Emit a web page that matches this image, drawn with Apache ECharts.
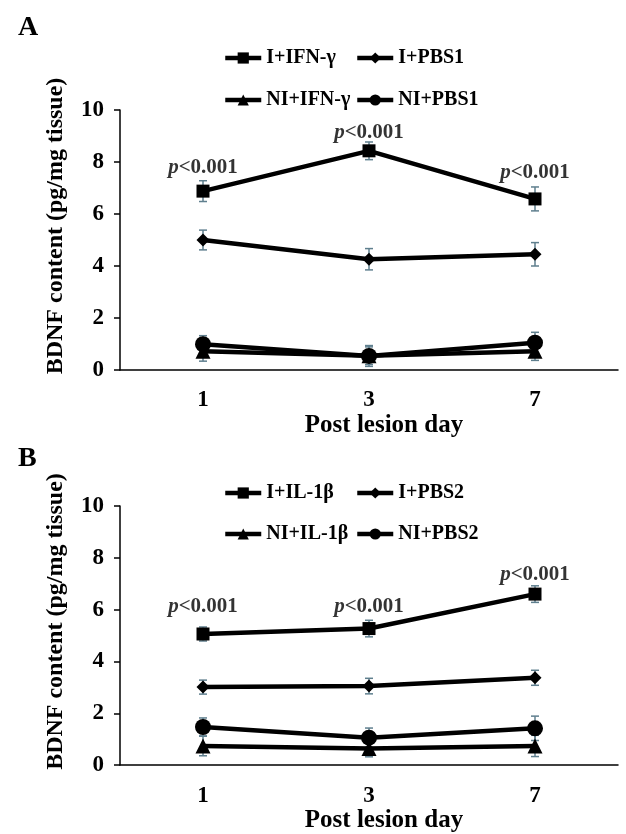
<!DOCTYPE html>
<html>
<head>
<meta charset="utf-8">
<script src="https://cdn.jsdelivr.net/npm/echarts@6/dist/echarts.min.js"></script>
<style>
html, body { margin: 0; padding: 0; background: #fff; }
#chart { width: 626px; height: 834px; }
</style>
</head>
<body>
<div id="chart"></div>
<script>
// 数据
var days = ['1', '3', '7']
var yTicks = [0, 2, 4, 6, 8, 10]

// A 组
var iIfn = [6.88, 8.43, 6.58]
var iIfnErr = [0.40, 0.34, 0.46]
var iPbs1 = [5.00, 4.26, 4.45]
var iPbs1Err = [0.38, 0.41, 0.45]
var niIfn = [0.72, 0.55, 0.72]
var niIfnErr = [0.38, 0.34, 0.35]
var niPbs1 = [0.99, 0.54, 1.05]
var niPbs1Err = [0.33, 0.40, 0.40]
var pA = ['<0.001', '<0.001', '<0.001']
var pAy = [7.77, 9.12, 7.58]

// B 组
var iIl = [5.06, 5.27, 6.60]
var iIlErr = [0.27, 0.32, 0.32]
var iPbs2 = [3.01, 3.05, 3.37]
var iPbs2Err = [0.27, 0.30, 0.29]
var niIl = [0.74, 0.64, 0.74]
var niIlErr = [0.38, 0.32, 0.41]
var niPbs2 = [1.47, 1.06, 1.42]
var niPbs2Err = [0.35, 0.37, 0.47]
var pB = ['<0.001', '<0.001', '<0.001']
var pBy = [6.12, 6.12, 7.35]

var FONT = '"Liberation Serif", "Times New Roman", serif'
var ERR_COLOR = '#5f7f8e'

var myChart = echarts.init(document.getElementById('chart'))

function errData (vals, errs) {
  return vals.map(function (v, i) { return [i, v - errs[i], v + errs[i]] })
}

function renderErr (params, api) {
  var lo = api.coord([api.value(0), api.value(1)])
  var hi = api.coord([api.value(0), api.value(2)])
  var x = lo[0]
  var w = 4
  var style = { stroke: ERR_COLOR, lineWidth: 1.5 }
  return {
    type: 'group',
    children: [
      { type: 'line', shape: { x1: x, y1: lo[1], x2: x, y2: hi[1] }, style: style },
      { type: 'line', shape: { x1: x - w, y1: lo[1], x2: x + w, y2: lo[1] }, style: style },
      { type: 'line', shape: { x1: x - w, y1: hi[1], x2: x + w, y2: hi[1] }, style: style }
    ]
  }
}

function lineSeries (name, data, symbol, size, idx) {
  return {
    name: name,
    type: 'line',
    xAxisIndex: idx,
    yAxisIndex: idx,
    data: data,
    symbol: symbol,
    symbolSize: size,
    lineStyle: { color: '#000', width: 4.5 },
    itemStyle: { color: '#000' },
    z: 3
  }
}

function errSeries (vals, errs, idx) {
  return {
    type: 'custom',
    xAxisIndex: idx,
    yAxisIndex: idx,
    renderItem: renderErr,
    encode: { x: 0, y: [1, 2] },
    data: errData(vals, errs),
    silent: true,
    z: 2
  }
}

function pSeries (labels, ys, idx) {
  return {
    type: 'scatter',
    xAxisIndex: idx,
    yAxisIndex: idx,
    symbolSize: 0,
    silent: true,
    data: ys.map(function (y, i) { return { value: [i, y], p: labels[i] } }),
    label: {
      show: true,
      position: 'inside',
      color: '#000',
      textBorderWidth: 0,
      formatter: function (p) { return '{i|p}{n|' + p.data.p + '}' },
      rich: {
        i: { fontFamily: FONT, fontStyle: 'italic', fontWeight: 'bold', fontSize: 21, color: '#000', textBorderWidth: 0 },
        n: { fontFamily: FONT, fontWeight: 'bold', fontSize: 21, color: '#000', textBorderWidth: 0 }
      }
    },
    z: 4
  }
}

function legendAt (name, left, top) {
  return {
    data: [name],
    left: left,
    top: top,
    itemWidth: 36,
    itemHeight: 14,
    itemGap: 0,
    selectedMode: false,
    lineStyle: { width: 4.5, color: '#000' },
    itemStyle: { color: '#000' },
    textStyle: { fontFamily: FONT, fontWeight: 'bold', fontSize: 20, color: '#000' }
  }
}

function xAxisAt (idx) {
  return {
    type: 'category',
    gridIndex: idx,
    data: days,
    boundaryGap: true,
    name: 'Post lesion day',
    nameLocation: 'middle',
    nameGap: 41,
    nameTextStyle: { fontFamily: FONT, fontWeight: 'bold', fontSize: 25, color: '#000', padding: [0, 0, 0, 30] },
    axisLine: { lineStyle: { color: '#000', width: 1.5 } },
    axisTick: { alignWithLabel: true, length: 6, lineStyle: { color: '#000', width: 1.5 } },
    axisLabel: { margin: 19, fontFamily: FONT, fontWeight: 'bold', fontSize: 23, color: '#000' },
    splitLine: { show: false }
  }
}

function yAxisAt (idx) {
  return {
    type: 'value',
    gridIndex: idx,
    min: yTicks[0],
    max: yTicks[yTicks.length - 1],
    interval: 2,
    name: 'BDNF content (pg/mg tissue)',
    nameLocation: 'middle',
    nameGap: 52,
    nameRotate: 90,
    nameTextStyle: { fontFamily: FONT, fontWeight: 'bold', fontSize: 24, color: '#000', padding: [0, 0, 0, 28] },
    axisLine: { show: true, lineStyle: { color: '#000', width: 1.5 } },
    axisTick: { show: true, length: 6, lineStyle: { color: '#000', width: 1.5 } },
    axisLabel: { margin: 16, fontFamily: FONT, fontWeight: 'bold', fontSize: 23, color: '#000' },
    splitLine: { show: false }
  }
}

var option = {
  backgroundColor: '#fff',
  animation: false,
  title: [
    { text: 'A', left: 13, top: 9, textStyle: { fontFamily: FONT, fontWeight: 'bold', fontSize: 28, color: '#000' } },
    { text: 'B', left: 13, top: 440, textStyle: { fontFamily: FONT, fontWeight: 'bold', fontSize: 28, color: '#000' } }
  ],
  legend: [
    legendAt('I+IFN-γ', 218, 43),
    legendAt('I+PBS1', 350, 43),
    legendAt('NI+IFN-γ', 218, 85),
    legendAt('NI+PBS1', 350, 85),
    legendAt('I+IL-1β', 218, 478),
    legendAt('I+PBS2', 350, 478),
    legendAt('NI+IL-1β', 218, 519),
    legendAt('NI+PBS2', 350, 519)
  ],
  grid: [
    { left: 120, right: 8, top: 110, height: 260 },
    { left: 120, right: 8, top: 506, height: 260 }
  ],
  xAxis: [xAxisAt(0), xAxisAt(1)],
  yAxis: [yAxisAt(0), yAxisAt(1)],
  series: [
    errSeries(iIfn, iIfnErr, 0),
    errSeries(iPbs1, iPbs1Err, 0),
    errSeries(niIfn, niIfnErr, 0),
    errSeries(niPbs1, niPbs1Err, 0),
    lineSeries('I+IFN-γ', iIfn, 'rect', 13, 0),
    lineSeries('I+PBS1', iPbs1, 'diamond', 13, 0),
    lineSeries('NI+IFN-γ', niIfn, 'triangle', 15, 0),
    lineSeries('NI+PBS1', niPbs1, 'circle', 16, 0),
    pSeries(pA, pAy, 0),

    errSeries(iIl, iIlErr, 1),
    errSeries(iPbs2, iPbs2Err, 1),
    errSeries(niIl, niIlErr, 1),
    errSeries(niPbs2, niPbs2Err, 1),
    lineSeries('I+IL-1β', iIl, 'rect', 13, 1),
    lineSeries('I+PBS2', iPbs2, 'diamond', 13, 1),
    lineSeries('NI+IL-1β', niIl, 'triangle', 15, 1),
    lineSeries('NI+PBS2', niPbs2, 'circle', 16, 1),
    pSeries(pB, pBy, 1)
  ]
}
myChart.setOption(option)
</script>
</body>
</html>
